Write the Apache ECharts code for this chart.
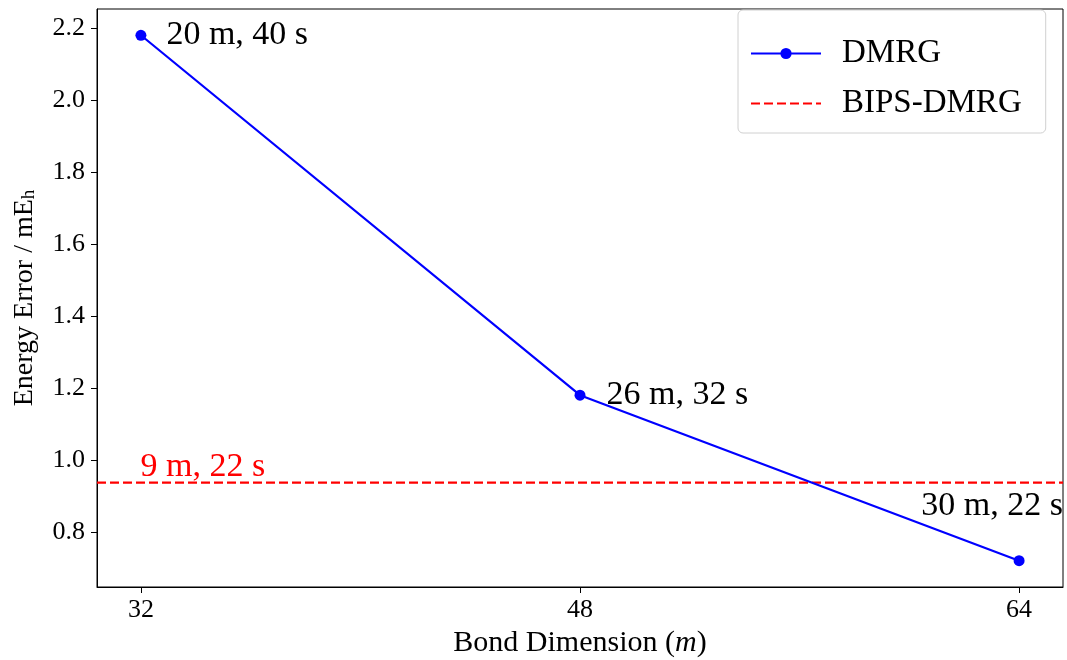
<!DOCTYPE html>
<html>
<head>
<meta charset="utf-8">
<script src="https://cdn.jsdelivr.net/npm/echarts@6/dist/echarts.min.js"></script>
<style>html,body{margin:0;padding:0;background:#fff}#c{width:1067px;height:660px}</style>
</head>
<body>
<div id="c"></div>
<script>
const bondDims = [32, 48, 64];
const dmrgError = [2.18, 1.18, 0.72];
const dmrgLabels = ['20 m, 40 s', '26 m, 32 s', '30 m, 22 s'];
const bipsError = 0.937;
const bipsLabel = '9 m, 22 s';
const bipsLabelAt = 32;
const xTicks = [32, 48, 64];
const yTicks = [0.8, 1.0, 1.2, 1.4, 1.6, 1.8, 2.0, 2.2];
const xMin = 30.4, xMax = 65.6;
const yMin = 0.647, yMax = 2.253;

const FONT = '"Liberation Serif", "DejaVu Serif", serif';
const labelStyles = [
  {position: 'right', distance: 20, offset: [0, 0]},
  {position: 'right', distance: 21, offset: [0, 0]},
  {position: 'inside', offset: [-27, -55]}
];

const chart = echarts.init(document.getElementById('c'), null, {renderer: 'canvas'});
chart.setOption({
  animation: false,
  backgroundColor: '#fff',
  textStyle: {fontFamily: FONT},
  grid: {left: 97, right: 4, top: 9, bottom: 73, show: true, borderColor: '#000', borderWidth: 1,
    containLabel: false, outerBoundsMode: 'none'},
  legend: {
    left: 738, top: 10,
    orient: 'vertical',
    padding: [27, 24, 13, 12],
    itemWidth: 70, itemHeight: 14, itemGap: 17,
    borderColor: '#d0d0d0', borderWidth: 1, borderRadius: 5,
    backgroundColor: '#fff',
    textStyle: {fontFamily: FONT, fontSize: 33, color: '#000', padding: [0, 0, 0, 16]},
    data: [{name: 'DMRG'}, {name: 'BIPS-DMRG', itemStyle: {opacity: 0}}]
  },
  xAxis: {
    type: 'value', min: xMin, max: xMax,
    name: '{n|Bond Dimension (}{i|m}{n|)}',
    nameLocation: 'middle', nameGap: 40,
    nameTextStyle: {rich: {
      n: {fontFamily: FONT, fontSize: 30, color: '#000'},
      i: {fontFamily: FONT, fontSize: 30, color: '#000', fontStyle: 'italic'}
    }},
    axisLine: {show: true, onZero: false, lineStyle: {color: '#000', width: 1}},
    axisTick: {show: true, customValues: xTicks, length: 6, inside: false, lineStyle: {color: '#000'}},
    axisLabel: {customValues: xTicks, fontFamily: FONT, fontSize: 26, color: '#000', margin: 10},
    splitLine: {show: false}
  },
  yAxis: {
    type: 'value', min: yMin, max: yMax,
    name: '{n|Energy Error / mE}{s|h}',
    nameLocation: 'middle', nameGap: 58,
    nameTextStyle: {rich: {
      n: {fontFamily: FONT, fontSize: 28, color: '#000'},
      s: {fontFamily: FONT, fontSize: 19, color: '#000', verticalAlign: 'bottom', padding: [10, 0, 0, 0]}
    }},
    axisLine: {show: true, onZero: false, lineStyle: {color: '#000', width: 1}},
    axisTick: {show: true, customValues: yTicks, length: 6, inside: false, lineStyle: {color: '#000'}},
    axisLabel: {customValues: yTicks, fontFamily: FONT, fontSize: 26, color: '#000', margin: 12,
      formatter: v => v.toFixed(1)},
    splitLine: {show: false}
  },
  series: [
    {
      name: 'DMRG', type: 'line',
      data: bondDims.map((x, i) => ({
        value: [x, dmrgError[i]],
        label: Object.assign({show: true, formatter: dmrgLabels[i], fontFamily: FONT, fontSize: 34, color: '#000'}, labelStyles[i])
      })),
      symbol: 'circle', symbolSize: 11,
      lineStyle: {color: '#0000ff', width: 2.2},
      itemStyle: {color: '#0000ff'},
      z: 3
    },
    {
      name: 'BIPS-DMRG', type: 'line',
      data: [[xMin, bipsError], [xMax, bipsError]],
      symbol: 'none', showSymbol: false,
      lineStyle: {color: '#ff0000', width: 2.2, type: [9, 4]},
      itemStyle: {color: '#ff0000'},
      markPoint: {
        symbol: 'circle', symbolSize: 0,
        silent: true,
        data: [{coord: [bipsLabelAt, bipsError]}],
        label: {show: true, formatter: bipsLabel, position: 'inside', offset: [62, -16],
          fontFamily: FONT, fontSize: 34, color: '#ff0000'}
      },
      z: 2
    }
  ]
});
</script>
</body>
</html>
